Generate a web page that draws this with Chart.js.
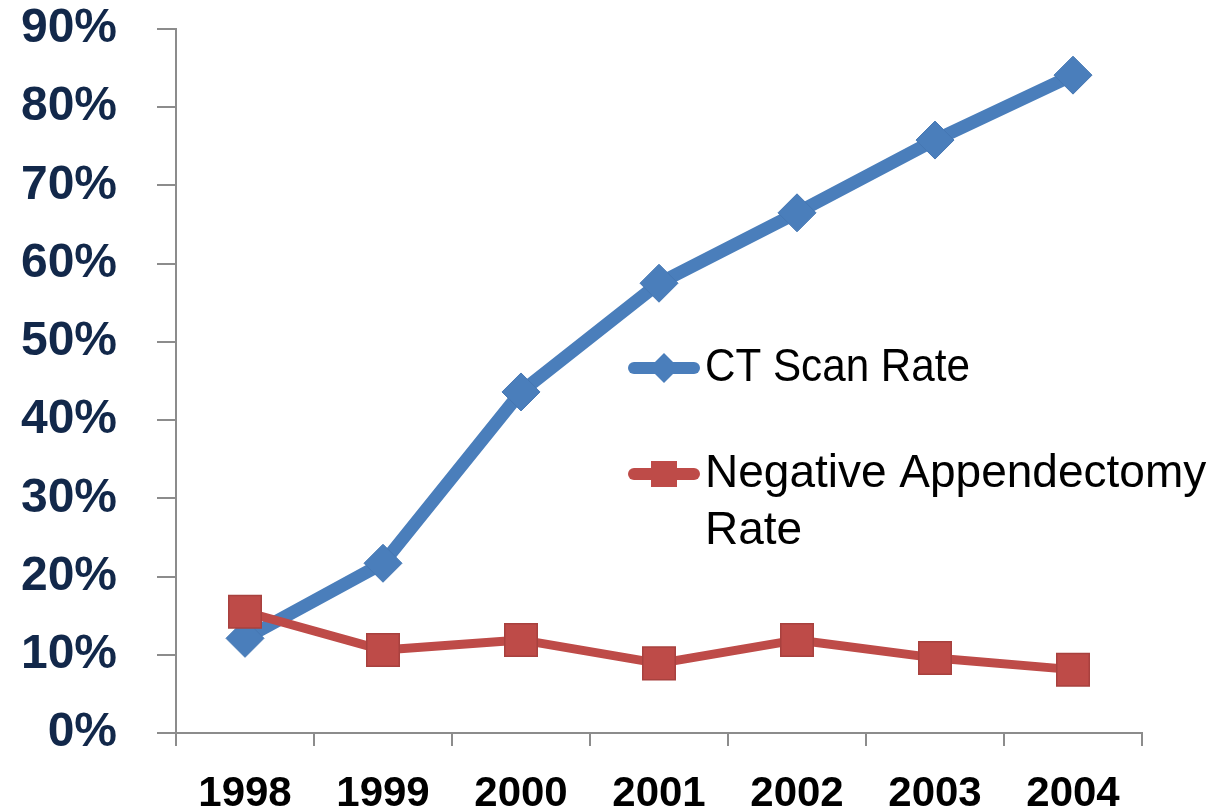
<!DOCTYPE html>
<html>
<head>
<meta charset="utf-8">
<script src="https://cdn.jsdelivr.net/npm/chart.js@4/dist/chart.umd.min.js"></script>
<style>
  html, body { margin: 0; padding: 0; background: #ffffff; }
  #wrap { width: 1232px; height: 809px; position: relative; }
</style>
</head>
<body>
<div id="wrap"><canvas id="rateChart"></canvas></div>
<script>
// values, in percent
var years = ["1998", "1999", "2000", "2001", "2002", "2003", "2004"];
var ctScanRate = [12.1, 21.7, 43.6, 57.5, 66.5, 75.8, 84.1];
var negAppendectomyRate = [15.5, 10.6, 11.9, 8.9, 11.9, 9.6, 8.1];
var yTicks = [0, 10, 20, 30, 40, 50, 60, 70, 80, 90];

var blue = '#4a7ebb';
var red = '#be4b48';

/**
 *  Draws the legend inside the plot, as in the original slide.
 */
var sideLegend = {
    id: 'sideLegend',
    afterDatasetsDraw: function(chart) {
        var ctx = chart.ctx;
        var items = [
            { lines: ["CT Scan Rate"], color: blue, style: 'diamond', y: 368 },
            { lines: ["Negative Appendectomy", "Rate"], color: red, style: 'square', y: 474 }
        ];
        ctx.save();
        items.forEach(function(item) {
            ctx.strokeStyle = item.color;
            ctx.lineWidth = 12;
            ctx.lineCap = 'round';
            ctx.beginPath();
            ctx.moveTo(634, item.y);
            ctx.lineTo(694, item.y);
            ctx.stroke();
            ctx.fillStyle = item.color;
            ctx.beginPath();
            if (item.style === 'diamond') {
                ctx.moveTo(664, item.y - 15);
                ctx.lineTo(679, item.y);
                ctx.lineTo(664, item.y + 15);
                ctx.lineTo(649, item.y);
                ctx.closePath();
            } else {
                ctx.rect(651, item.y - 13, 26, 26);
            }
            ctx.fill();
            ctx.fillStyle = '#000000';
            ctx.font = '46px "Liberation Sans", Arial, sans-serif';
            ctx.textAlign = 'left';
            ctx.textBaseline = 'middle';
            item.lines.forEach(function(line, i) {
                ctx.fillText(line, 705, item.y + i * 57, line.length > 12 ? 505 : 265);
            });
        });
        ctx.restore();
    }
};

var rateChart = new Chart(document.getElementById('rateChart').getContext('2d'), {
    type: 'line',
    data: {
        labels: years,
        datasets: [{
            label: 'CT Scan Rate',
            data: ctScanRate,
            borderColor: blue,
            backgroundColor: blue,
            borderWidth: 13,
            borderCapStyle: 'round',
            borderJoinStyle: 'round',
            pointStyle: 'rectRot',
            pointRadius: 19,
            pointBorderWidth: 1,
            pointBorderColor: '#4577b3',
            tension: 0,
            fill: false,
            order: 2
        }, {
            label: 'Negative Appendectomy Rate',
            data: negAppendectomyRate,
            borderColor: red,
            backgroundColor: red,
            borderWidth: 9,
            borderCapStyle: 'round',
            borderJoinStyle: 'round',
            pointStyle: 'rect',
            pointRadius: 23,
            pointBorderWidth: 1.5,
            pointBorderColor: '#a8413e',
            tension: 0,
            fill: false,
            order: 1
        }]
    },
    options: {
        responsive: true,
        maintainAspectRatio: false,
        animation: false,
        layout: { padding: { top: 29, right: 90, left: 0, bottom: 0 } },
        plugins: {
            legend: { display: false },
            tooltip: { enabled: false }
        },
        scales: {
            x: {
                offset: true,
                grid: {
                    offset: true,
                    drawOnChartArea: false,
                    drawTicks: true,
                    tickLength: 13,
                    color: '#8c8c8c',
                    lineWidth: 2
                },
                border: { display: true, color: '#8c8c8c', width: 2 },
                ticks: {
                    color: '#000000',
                    padding: 23,
                    font: { family: '"Liberation Sans", Arial, sans-serif', size: 42, weight: 'bold' }
                },
                afterFit: function(scale) {
                    scale.height = 76;
                    scale.paddingLeft = 0;
                    scale.paddingRight = 0;
                }
            },
            y: {
                min: 0,
                max: 90,
                afterBuildTicks: function(scale) {
                    scale.ticks = yTicks.map(function(v) { return { value: v }; });
                },
                grid: {
                    drawOnChartArea: false,
                    drawTicks: true,
                    tickLength: 19,
                    color: '#8c8c8c',
                    lineWidth: 2
                },
                border: { display: true, color: '#8c8c8c', width: 2 },
                ticks: {
                    color: '#12284a',
                    padding: 40,
                    font: { family: '"Liberation Sans", Arial, sans-serif', size: 48, weight: 'bold' },
                    callback: function(value) { return value + '%'; }
                },
                afterFit: function(scale) {
                    scale.width = 176;
                    scale.paddingTop = 0;
                    scale.paddingBottom = 0;
                }
            }
        }
    },
    plugins: [sideLegend]
});
</script>
</body>
</html>
